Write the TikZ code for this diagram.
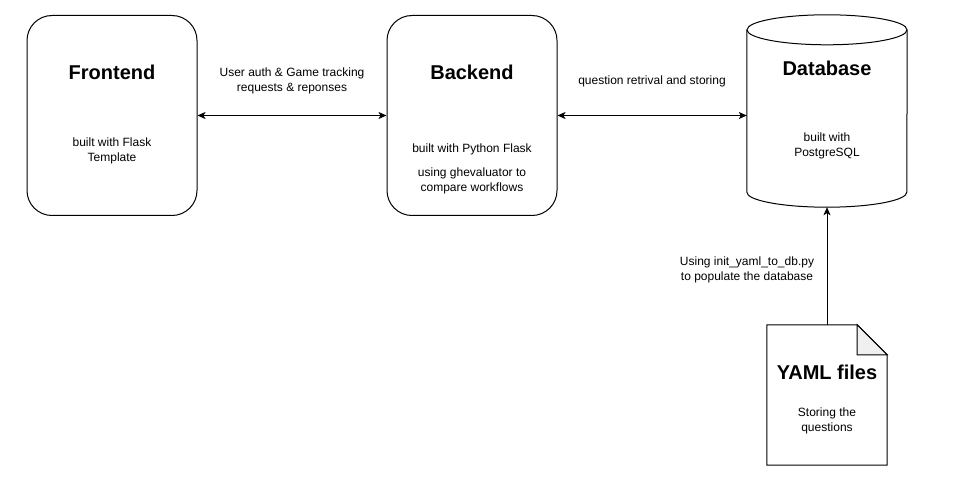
\documentclass[tikz,border=0pt]{standalone}
\usepackage{fontspec}
\setmainfont{Liberation Sans}
\usepackage{tikz}
\usetikzlibrary{arrows.meta}

\tikzset{
  box/.style={draw, rounded corners=25pt, minimum width=170pt, minimum height=200pt, line width=1pt},
  area/.style={minimum width=#1, inner sep=0pt},
  title/.style={font=\fontsize{20}{24}\selectfont\bfseries},
  note/.style={font=\fontsize{12}{15}\selectfont, align=center},
  link/.style={{Stealth[length=8pt,width=7pt,inset=2pt]}-{Stealth[length=8pt,width=7pt,inset=2pt]}, line width=1pt},
  feed/.style={-{Stealth[length=8pt,width=7pt,inset=2pt]}, line width=1pt}
}

\begin{document}
\begin{tikzpicture}[x=1pt,y=-1pt]
    \useasboundingbox (0,0) rectangle (954,500);

    \node [box] (front) at (112,115.5) {};
    \node [box] (back) at (472,115.5) {};
    \node [area=160pt, minimum height=192pt] (db) at (827,111) {};
    \node [area=120pt, minimum height=140pt] (yaml) at (827,395) {};

    \draw [line width=1pt] ([yshift=-15pt]db.north west) -- ([yshift=15pt]db.south west)
      arc [start angle=180, end angle=0, x radius=80, y radius=15]
      -- ([yshift=-15pt]db.north east);
    \draw [line width=1pt] ([yshift=-15pt]db.north) ellipse [x radius=80, y radius=15];

    \draw [line width=1pt] (yaml.north west) -- ([xshift=-30pt]yaml.north east)
      -- ([yshift=-30pt]yaml.north east) -- (yaml.south east) -- (yaml.south west) -- cycle;
    \filldraw [fill=gray!12, line width=1pt] ([xshift=-30pt]yaml.north east)
      -- ([xshift=-30pt,yshift=-30pt]yaml.north east) -- ([yshift=-30pt]yaml.north east) -- cycle;

    \node [title] (frontT) at (112,72) {Frontend};
    \node [note] (frontN) at (112,150.5) {built with Flask\\Template};
    \node [title] (backT) at (472,72) {Backend};
    \node [note] (backN1) at (472,149) {built with Python Flask};
    \node [note] (backN2) at (472,180.5) {using ghevaluator to\\compare workflows};
    \node [title] (dbT) at (827,68) {Database};
    \node [note] (dbN) at (827,146) {built with\\PostgreSQL};
    \node [title] (yamlT) at (827,372) {YAML files};
    \node [note] (yamlN) at (827,420.5) {Storing the\\questions};

    \draw [link] (front.east) -- (back.west);
    \draw [link] (back.east) -- (back.east -| db.west);
    \draw [feed] (yaml.north) -- (db.south);

    \node [note] (l1) at (292,80.5) {User auth \& Game tracking\\requests \& reponses};
    \node [note] (l2) at (652,81) {question retrival and storing};
    \node [note] (l3) at (747,270) {Using init\_yaml\_to\_db.py\\to populate the database};
\end{tikzpicture}
\end{document}
